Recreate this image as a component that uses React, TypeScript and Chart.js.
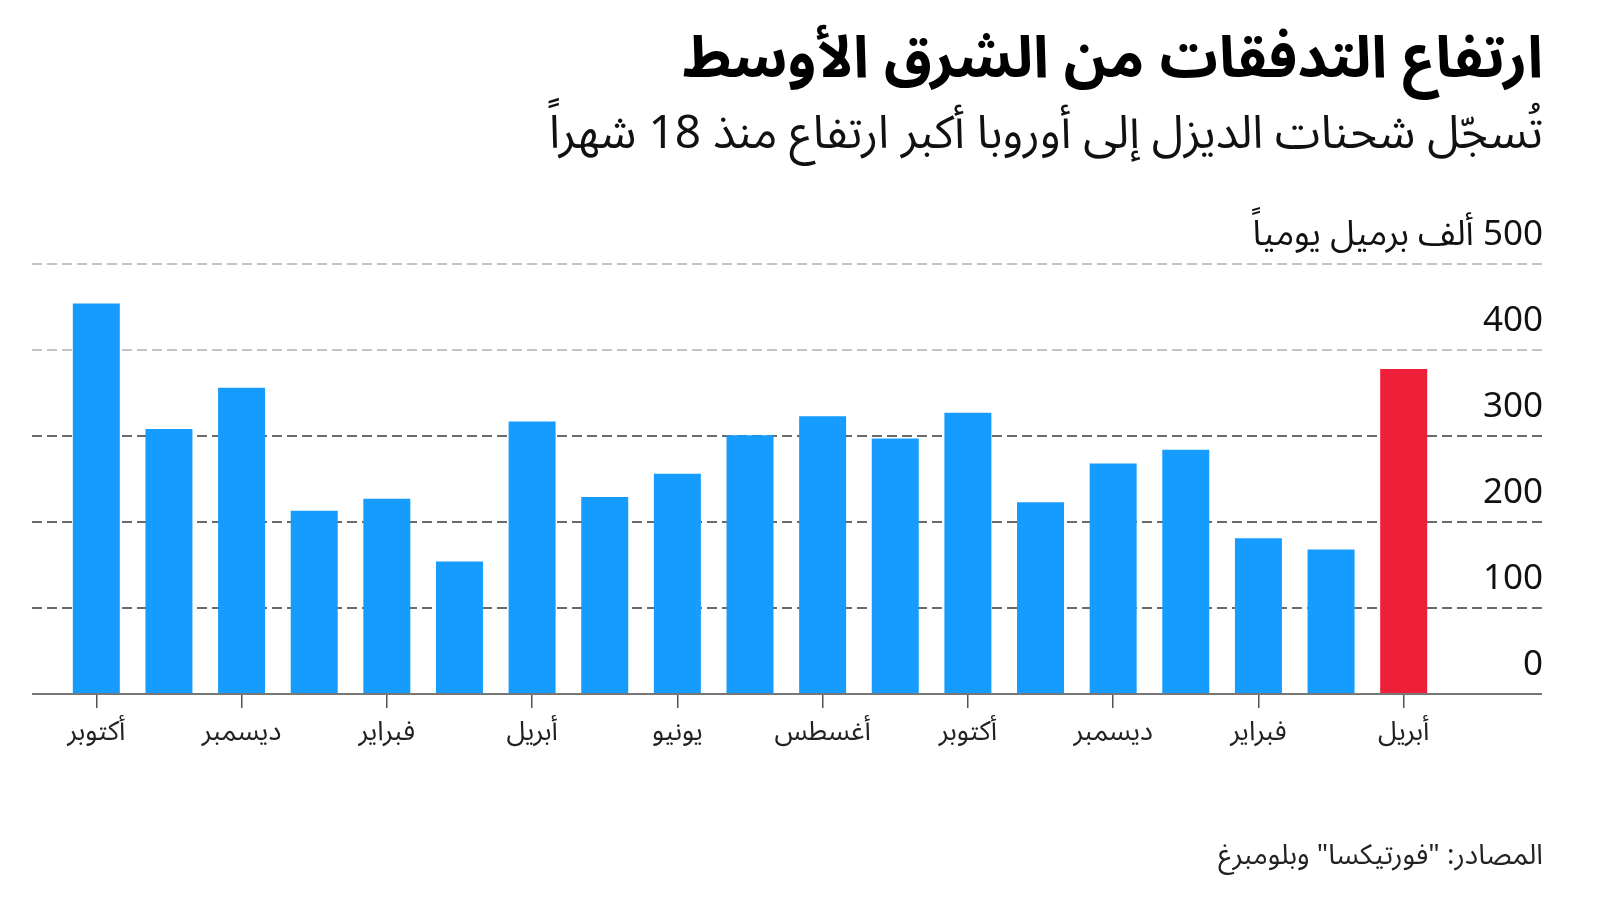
import React, { useEffect, useRef } from 'react';
import { Chart, registerables } from 'chart.js';

Chart.register(...registerables);

const months = ['أكتوبر', 'نوفمبر', 'ديسمبر', 'يناير', 'فبراير', 'مارس', 'أبريل', 'مايو', 'يونيو', 'يوليو', 'أغسطس', 'سبتمبر', 'أكتوبر', 'نوفمبر', 'ديسمبر', 'يناير', 'فبراير', 'مارس', 'أبريل'];
const shipments = [454, 308, 356, 213, 227, 154, 317, 229, 256, 301, 323, 297, 327, 223, 268, 284, 181, 168, 378];
const highlightIndex = 18;
const yTicks = [0, 100, 200, 300, 400, 500];
const yUnit = 'ألف برميل يومياً';
const titleText = 'ارتفاع التدفقات من الشرق الأوسط';
const subtitleText = 'تُسجّل شحنات الديزل إلى أوروبا أكبر ارتفاع منذ 18 شهراً';
const sourceText = 'المصادر: "فورتيكسا" وبلومبرغ';

const FAMILY = '"Noto Sans Arabic", "Noto Sans", "DejaVu Sans", sans-serif';
const BLUE = '#169cff';
const RED = '#ee2039';

const decor = {
  id: 'decor',
  beforeDatasetsDraw(chart: any) {
    const { ctx } = chart;
    const y = chart.scales.y;
    ctx.save();
    yTicks.forEach((v) => {
      if (v === 0) return;
      const py = y.getPixelForValue(v);
      ctx.beginPath();
      ctx.setLineDash([10, 5]);
      ctx.lineWidth = 1.5;
      ctx.strokeStyle = v >= 400 ? '#b0b0b0' : '#3a3a3a';
      ctx.moveTo(32, py);
      ctx.lineTo(1542, py);
      ctx.stroke();
    });
    ctx.restore();
  },
  afterDatasetsDraw(chart: any) {
    const { ctx } = chart;
    const y = chart.scales.y;
    ctx.save();
    const base = y.getPixelForValue(0);
    ctx.beginPath();
    ctx.setLineDash([]);
    ctx.lineWidth = 2;
    ctx.strokeStyle = '#777777';
    ctx.moveTo(32, base);
    ctx.lineTo(1542, base);
    ctx.stroke();

    ctx.font = `35px ${FAMILY}`;
    ctx.fillStyle = '#111111';
    ctx.textAlign = 'right';
    ctx.textBaseline = 'middle';
    (ctx as any).direction = 'rtl';
    yTicks.forEach((v) => {
      const py = y.getPixelForValue(v);
      const label = v === yTicks[yTicks.length - 1] ? `${v} ${yUnit}` : `${v}`;
      ctx.fillText(label, 1543, py - 24);
    });
    ctx.restore();
  },
  afterDraw(chart: any) {
    const { ctx } = chart;
    ctx.save();
    (ctx as any).direction = 'rtl';
    ctx.textAlign = 'right';
    ctx.textBaseline = 'middle';
    ctx.fillStyle = '#000000';
    ctx.font = `bold 58px ${FAMILY}`;
    ctx.fillText(titleText, 1543, 68);
    ctx.font = `46px ${FAMILY}`;
    ctx.fillStyle = '#111111';
    ctx.fillText(subtitleText, 1543, 141);
    ctx.font = `28px ${FAMILY}`;
    ctx.fillStyle = '#222222';
    ctx.fillText(sourceText, 1543, 860);
    ctx.restore();
  },
};

export default function App() {
  const ref = useRef<HTMLCanvasElement | null>(null);
  useEffect(() => {
    if (!ref.current) return;
    const chart = new Chart(ref.current, {
      type: 'bar',
      data: {
        labels: months,
        datasets: [
          {
            data: shipments,
            backgroundColor: shipments.map((_, i) => (i === highlightIndex ? RED : BLUE)),
            borderWidth: 0,
            barPercentage: 0.647,
            categoryPercentage: 1,
          },
        ],
      },
      options: {
        animation: false,
        responsive: false,
        devicePixelRatio: 1,
        layout: { padding: { left: 60, right: 160, top: 264, bottom: 0 } },
        plugins: { legend: { display: false }, tooltip: { enabled: false }, title: { display: false } },
        scales: {
          x: {
            offset: true,
            border: { display: false },
            grid: {
              display: true,
              drawOnChartArea: false,
              drawTicks: true,
              tickLength: 14,
              offset: false,
              lineWidth: 1.5,
              color: (c: any) => (c.index % 2 === 0 ? '#555555' : 'rgba(0,0,0,0)'),
            },
            ticks: {
              autoSkip: false,
              maxRotation: 0,
              minRotation: 0,
              padding: 12,
              color: '#222222',
              font: { size: 27, family: FAMILY },
              callback: (_v: any, i: number) => (i % 2 === 0 ? months[i] : ''),
            },
            afterFit: (s: any) => {
              s.height = 206;
            },
          },
          y: {
            display: false,
            min: 0,
            max: 500,
          },
        },
      },
      plugins: [decor],
    });
    return () => chart.destroy();
  }, []);
  return (
    <div style={{ position: 'absolute', left: 0, top: 0, width: 1600, height: 900, background: '#fff' }}>
      <canvas ref={ref} width={1600} height={900} />
    </div>
  );
}
